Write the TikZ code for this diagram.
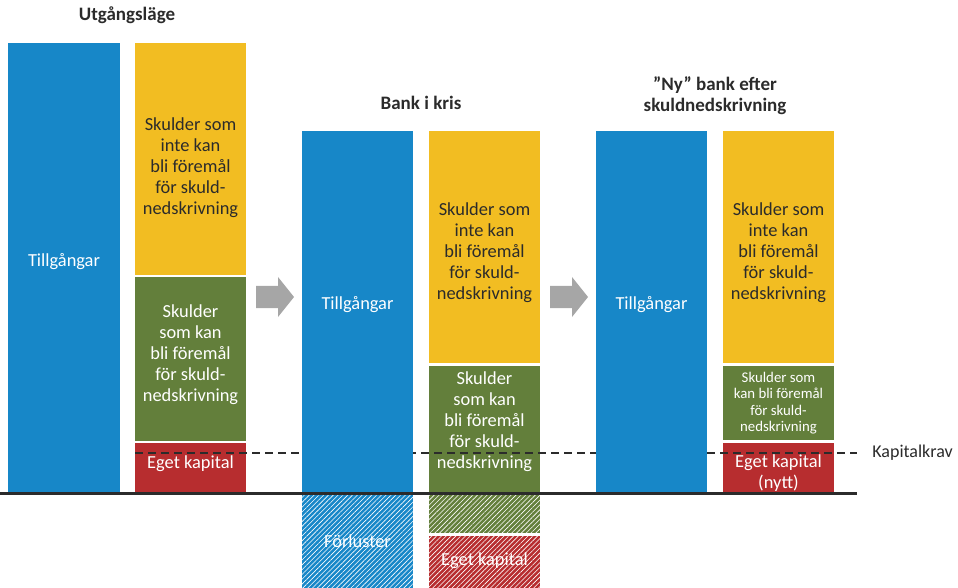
\documentclass[tikz,border=0pt]{standalone}
\usepackage{fontspec}
\setmainfont{Carlito}
\usetikzlibrary{positioning,fit,patterns.meta}
\definecolor{rbblue}{HTML}{1787C8}
\definecolor{rbyellow}{HTML}{F2BD22}
\definecolor{rbgreen}{HTML}{637F3B}
\definecolor{rbred}{HTML}{B72D2F}
\definecolor{rbgray}{HTML}{A6A6A6}
\definecolor{rbdark}{HTML}{2B2B2B}
\tikzset{
  seg/.style={inner sep=0pt},
  segtext/.style={align=center,inner sep=0pt,font=\fontsize{9.2}{10.5}\selectfont,text=white},
  asset/.style={seg,fill=rbblue},
  fixdebt/.style={seg,fill=rbyellow},
  cutdebt/.style={seg,fill=rbgreen},
  equity/.style={seg,fill=rbred},
  loss/.style={postaction={pattern={Lines[angle=45,distance=1.7pt,line width=0.3pt]},pattern color=white,fill opacity=0.5}},
  heading/.style={align=center,font=\bfseries\fontsize{9.5}{10.5}\selectfont,text=rbdark},
  krav/.style={dashed,dash pattern=on 4pt off 2.5pt,line width=1.4pt,draw=rbdark},
  base/.style={line width=1.5pt,draw=rbdark},
}

\begin{document}
\begin{tikzpicture}[x=0.5pt,y=-0.5pt]
  \useasboundingbox (0,0) rectangle (958,588);

  % rubriker
  \node[heading] (t1) at (127,15) {Utgångsläge};
  \node[heading] (t2) at (421,103) {Bank i kris};
  \node[heading] (t3) at (715,96) {”Ny” bank efter\\skuldnedskrivning};

  % skuldsidan
  \node[fixdebt,fit={(135,43) (246,275)},
    label={[segtext,text=rbdark,yshift=-4.5pt]center:{Skulder som\\inte kan\\bli föremål\\för skuld-\\nedskrivning}}] (s1) {};
  \node[cutdebt,fit={(135,277) (246,441)},
    label={[segtext,yshift=2pt]center:{Skulder\\som kan\\bli föremål\\för skuld-\\nedskrivning}}] (g1) {};
  \node[equity,fit={(135,443) (246,493)},
    label={[segtext,yshift=2pt]center:Eget kapital}] (e1) {};

  \node[fixdebt,fit={(429,131) (540,363)},
    label={[segtext,text=rbdark,yshift=-3pt]center:{Skulder som\\inte kan\\bli föremål\\för skuld-\\nedskrivning}}] (s2) {};
  \node[cutdebt,fit={(429,366) (540,493)},
    label={[segtext,yshift=3.7pt]center:{Skulder\\som kan\\bli föremål\\för skuld-\\nedskrivning}}] (g2) {};
  \node[cutdebt,loss,fit={(429,493) (540,533)}] (g2b) {};
  \node[equity,loss,fit={(429,536) (540,590)},
    label={[segtext,yshift=1pt]center:Eget kapital}] (e2) {};

  \node[fixdebt,fit={(723,131) (834,363)},
    label={[segtext,text=rbdark,yshift=-3pt]center:{Skulder som\\inte kan\\bli föremål\\för skuld-\\nedskrivning}}] (s3) {};
  \node[cutdebt,fit={(723,366) (834,440)},
    label={[segtext,font=\fontsize{7.4}{8.2}\selectfont]center:{Skulder som\\kan bli föremål\\för skuld-\\nedskrivning}}] (g3) {};
  \node[equity,fit={(723,443) (834,493)},
    label={[segtext,yshift=-2.5pt]center:{Eget kapital\\(nytt)}}] (e3) {};

  % kapitalkrav
  \coordinate (k0) at (135,453);
  \node[anchor=west,inner sep=0pt,font=\fontsize{9}{10.5}\selectfont,text=rbdark] (kap) at (872,453) {Kapitalkrav};
  \draw[krav] (k0) -- ([xshift=-7.5pt]kap.west);

  % tillgångar
  \node[asset,fit={(8,43) (120,493)},
    label={[segtext,yshift=3pt]center:Tillgångar}] (a1) {};
  \node[asset,fit={(302,131) (413,493)},
    label={[segtext,yshift=3.5pt]center:Tillgångar}] (a2) {};
  \node[asset,loss,fit={(302,493) (413,590)},
    label={[segtext]center:Förluster}] (f2) {};
  \node[asset,fit={(596,131) (707,493)},
    label={[segtext,yshift=3.5pt]center:Tillgångar}] (a3) {};

  % pilar mellan stegen
  \coordinate (p1) at (256,297);
  \coordinate (p2) at (550,297);
  \foreach \p in {p1,p2}
    \fill[rbgray] (\p) ++(0,-11) -- ++(22,0) -- ++(0,-9) -- ++(16,20)
      -- ++(-16,20) -- ++(0,-9) -- ++(-22,0) -- cycle;

  % nollinje
  \coordinate (b0) at (0,493);
  \coordinate (b1) at (857,493);
  \draw[base] (b0) -- (b1);
\end{tikzpicture}
\end{document}
